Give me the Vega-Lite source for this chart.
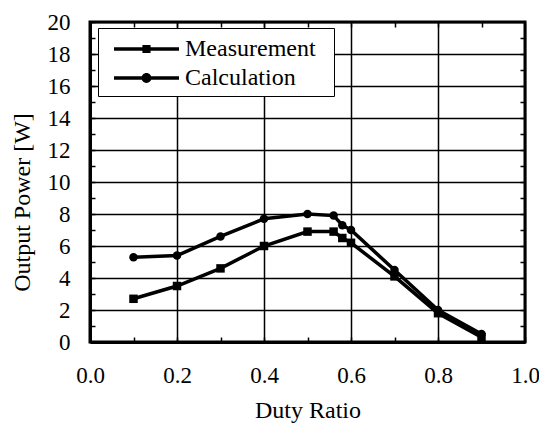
{
  "$schema": "https://vega.github.io/schema/vega-lite/v6.json",
  "width": 435,
  "height": 320,
  "autosize": "none",
  "padding": {"left": 90, "top": 22, "right": 14, "bottom": 83},
  "background": "white",
  "config": {
    "view": {"stroke": "black", "strokeWidth": 3},
    "font": "Liberation Serif",
    "axis": {
      "labelFont": "Liberation Serif",
      "titleFont": "Liberation Serif",
      "labelColor": "black",
      "titleColor": "black",
      "labelFontSize": 23,
      "titleFontSize": 24,
      "titleFontWeight": "normal",
      "gridColor": "black",
      "gridWidth": 1.5,
      "tickColor": "black",
      "tickWidth": 1.5,
      "domainColor": "black",
      "domainWidth": 3
    }
  },
  "data": {
    "values": [
      {"duty": 0.1, "power": 2.7, "series": "Measurement"},
      {"duty": 0.2, "power": 3.5, "series": "Measurement"},
      {"duty": 0.3, "power": 4.6, "series": "Measurement"},
      {"duty": 0.4, "power": 6.0, "series": "Measurement"},
      {"duty": 0.5, "power": 6.9, "series": "Measurement"},
      {"duty": 0.56, "power": 6.9, "series": "Measurement"},
      {"duty": 0.58, "power": 6.5, "series": "Measurement"},
      {"duty": 0.6, "power": 6.2, "series": "Measurement"},
      {"duty": 0.7, "power": 4.1, "series": "Measurement"},
      {"duty": 0.8, "power": 1.8, "series": "Measurement"},
      {"duty": 0.9, "power": 0.3, "series": "Measurement"},
      {"duty": 0.1, "power": 5.3, "series": "Calculation"},
      {"duty": 0.2, "power": 5.4, "series": "Calculation"},
      {"duty": 0.3, "power": 6.6, "series": "Calculation"},
      {"duty": 0.4, "power": 7.7, "series": "Calculation"},
      {"duty": 0.5, "power": 8.0, "series": "Calculation"},
      {"duty": 0.56, "power": 7.9, "series": "Calculation"},
      {"duty": 0.58, "power": 7.3, "series": "Calculation"},
      {"duty": 0.6, "power": 7.0, "series": "Calculation"},
      {"duty": 0.7, "power": 4.5, "series": "Calculation"},
      {"duty": 0.8, "power": 2.0, "series": "Calculation"},
      {"duty": 0.9, "power": 0.5, "series": "Calculation"}
    ]
  },
  "layer": [
    {
      "mark": {"type": "line", "color": "black", "strokeWidth": 3.5},
      "encoding": {
        "x": {
          "field": "duty", "type": "quantitative",
          "scale": {"domain": [0, 1], "nice": false, "zero": false},
          "axis": {
            "title": "Duty Ratio",
            "values": [0, 0.1, 0.2, 0.3, 0.4, 0.5, 0.6, 0.7, 0.8, 0.9, 1.0],
            "labelExpr": "round(datum.value*10) % 2 == 1 ? '' : format(datum.value, '.1f')",
            "gridOpacity": {"condition": {"test": "round(datum.value*10) % 2 == 1", "value": 0}, "value": 1},
            "grid": true,
            "tickSize": -5,
            "labelPadding": 27,
            "titlePadding": 11,
            "labelFlush": false,
            "labelOverlap": false
          }
        },
        "y": {
          "field": "power", "type": "quantitative",
          "scale": {"domain": [0, 20], "nice": false},
          "axis": {
            "title": "Output Power [W]",
            "values": [0,1,2,3,4,5,6,7,8,9,10,11,12,13,14,15,16,17,18,19,20],
            "labelExpr": "datum.value % 2 == 1 ? '' : datum.label",
            "gridOpacity": {"condition": {"test": "datum.value % 2 == 1", "value": 0}, "value": 1},
            "grid": true,
            "tickSize": -5,
            "labelPadding": 25,
            "titlePadding": 13,
            "titleY": 180,
            "labelFlush": false,
            "labelOverlap": false
          }
        },
        "detail": {"field": "series"}
      }
    },
    {
      "mark": {"type": "point", "filled": true, "color": "black", "opacity": 1, "size": 72},
      "encoding": {
        "x": {"field": "duty", "type": "quantitative", "axis": null},
        "y": {"field": "power", "type": "quantitative", "axis": null},
        "shape": {
          "field": "series", "type": "nominal",
          "scale": {"domain": ["Measurement", "Calculation"], "range": ["square", "circle"]},
          "legend": null
        }
      }
    },
    {
      "mark": {"type": "point", "filled": true, "color": "black", "opacity": 0},
      "encoding": {
        "x": {
          "field": "duty", "type": "quantitative",
          "axis": {
            "orient": "top", "labels": false, "grid": false, "domain": false, "title": null,
            "values": [0.1, 0.2, 0.3, 0.4, 0.5, 0.6, 0.7, 0.8, 0.9],
            "tickSize": -5
          }
        },
        "y": {
          "field": "power", "type": "quantitative",
          "axis": {
            "orient": "right", "labels": false, "grid": false, "domain": false, "title": null,
            "values": [1,2,3,4,5,6,7,8,9,10,11,12,13,14,15,16,17,18,19],
            "tickSize": -5
          }
        },
        "shape": {
          "field": "series", "type": "nominal",
          "scale": {
            "domain": ["Measurement", "Calculation"],
            "range": [
              "M-0.333,-0.12H4V0.12H-0.333ZM1.563,-0.27H2.103V0.27H1.563Z",
              "M-0.333,-0.12H4V0.12H-0.333ZM2.163,0A0.33,0.33,0,1,1,1.503,0A0.33,0.33,0,1,1,2.163,0Z"
            ]
          },
          "legend": {
            "title": "\u00a0",
            "titleOrient": "right",
            "titlePadding": 12,
            "titleFontSize": 24,
            "orient": "none",
            "legendX": 8,
            "legendY": 6,
            "padding": 6,
            "fillColor": "white",
            "strokeColor": "black",
            "symbolSize": 900,
            "symbolStrokeWidth": 0,
            "symbolFillColor": "black",
            "symbolOpacity": 1,
            "labelFont": "Liberation Serif",
            "labelFontSize": 24,
            "labelColor": "black",
            "labelOffset": 51,
            "labelLimit": 0,
            "rowPadding": 2,
            "encode": {
              "legend": {"update": {"strokeWidth": {"value": 2.5}}},
              "symbols": {"update": {"fill": {"value": "black"}, "opacity": {"value": 1}, "fillOpacity": {"value": 1}}}
            }
          }
        }
      }
    }
  ],
  "resolve": {"scale": {"shape": "independent"}, "axis": {"x": "independent", "y": "independent"}}
}
